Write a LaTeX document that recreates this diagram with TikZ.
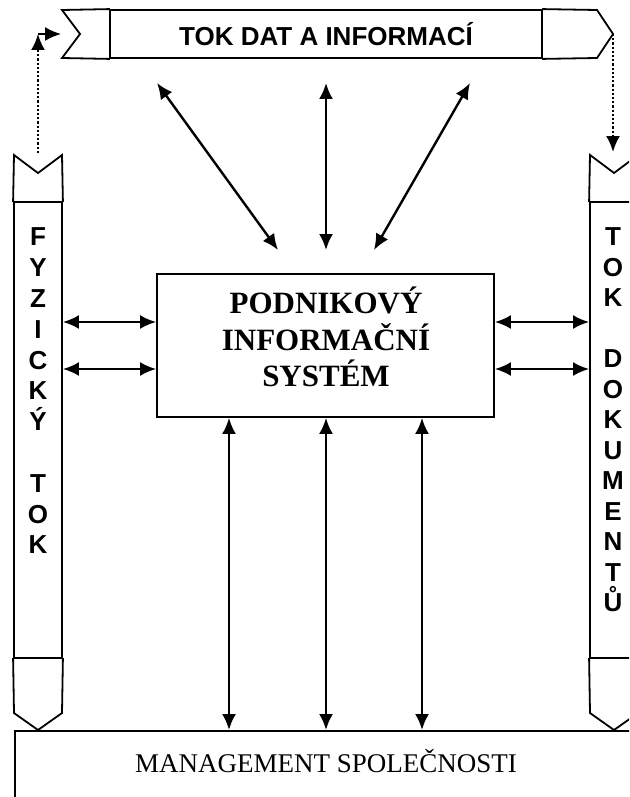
\documentclass[tikz,border=0pt]{standalone}
\usepackage{fontspec}
\setmainfont{Liberation Serif}
\newfontfamily\arialfont{Liberation Sans}
\usetikzlibrary{positioning,arrows.meta}

\begin{document}
\begin{tikzpicture}[x=1pt,y=-1pt,>={Latex[length=16pt,width=14pt]},line width=1.8pt]

\tikzstyle{band}=[draw=black,line width=1.8pt,inner sep=0pt]
\tikzstyle{endcap}=[line cap=rect]
\tikzstyle{link}=[<->,line width=2.4pt]
\tikzstyle{hint}=[->,dotted,line width=2.2pt]
\tikzstyle{letters}=[font=\arialfont\bfseries\fontsize{26}{30.8}\selectfont,align=center,inner sep=0pt,anchor=north]

\useasboundingbox (0,0) rectangle (629,797);
\clip (0,0) rectangle (629,797);

    \node[band, minimum width=432pt, minimum height=48pt, font=\arialfont\bfseries\fontsize{26}{30}\selectfont] (tok) at (326,34) {TOK DAT A INFORMACÍ};
    \node[band, minimum width=48pt, minimum height=456pt] (fyz) at (38,430) {};
    \node[band, minimum width=48pt, minimum height=456pt] (dok) at (614,430) {};
    \node[band, minimum width=337pt, minimum height=143pt] (sys) at (325.5,345.5) {};
    \node[band, minimum width=624pt, minimum height=100pt, anchor=north west] (mgmt) at (14,730) {};

    \node[font=\bfseries\fontsize{31}{36.5}\selectfont, align=center, inner sep=0pt] (systxt) at (326,337) {PODNIKOVÝ\\INFORMAČNÍ\\SYSTÉM};
    \node[font=\fontsize{27}{30}\selectfont, anchor=base, inner sep=0pt] (mgmttxt) at (326,772) {MANAGEMENT SPOLEČNOSTI};
    \node[letters, below=26pt of fyz.north] (fyztxt) {F\\Y\\Z\\I\\C\\K\\Ý\\[30.8pt]T\\O\\K};
    \node[letters, below=26pt of dok.north, font=\arialfont\bfseries\fontsize{26}{30.5}\selectfont, xshift=-1pt] (doktxt) {T\\O\\K\\[30.5pt]D\\O\\K\\U\\M\\E\\N\\T\\Ů};

\draw[endcap] (tok.north west) -- (62,10) -- (80,34) -- (62,58) -- (tok.south west);
\draw[endcap] (tok.north east) -- (597,10) -- (613,34) -- (597,58) -- (tok.south east);
\draw[endcap] (fyz.north west) -- (14,155) -- (38,173) -- (62,155) -- (fyz.north east);
\draw[endcap] (fyz.south west) -- (14,713) -- (38,730) -- (62,713) -- (fyz.south east);
\draw[endcap] (dok.north west) -- (590,155) -- (614,173) -- (638,155) -- (dok.north east);
\draw[endcap] (dok.south west) -- (590,713) -- (614,730) -- (638,713) -- (dok.south east);

    \coordinate (up1) at (157,83);
    \coordinate (up2) at (326,83);
    \coordinate (up3) at (470,83);
    \coordinate (dn1) at (278,250);
    \coordinate (dn2) at (326,250);
    \coordinate (dn3) at (374,250);
    \coordinate (fyztop) at (38,153);
    \coordinate (corner) at (38,34);
    \coordinate (doktop) at (613,152);

\draw[link] (up1) -- (dn1);
\draw[link] (up2) -- (dn2);
\draw[link] (up3) -- (dn3);
\foreach \y in {322,369} {
    \draw[link] (fyz.east |- 0,\y) -- (sys.west |- 0,\y);
    \draw[link] (sys.east |- 0,\y) -- (dok.west |- 0,\y);
}
\foreach \x in {229,326,422}
    \draw[link] (\x,0 |- sys.south) -- (\x,0 |- mgmt.north);

\draw[hint] (fyztop) -- (corner);
\draw[->] (corner) -- (61,34);
\draw[hint] (613,34) -- (doktop);
\end{tikzpicture}
\end{document}
